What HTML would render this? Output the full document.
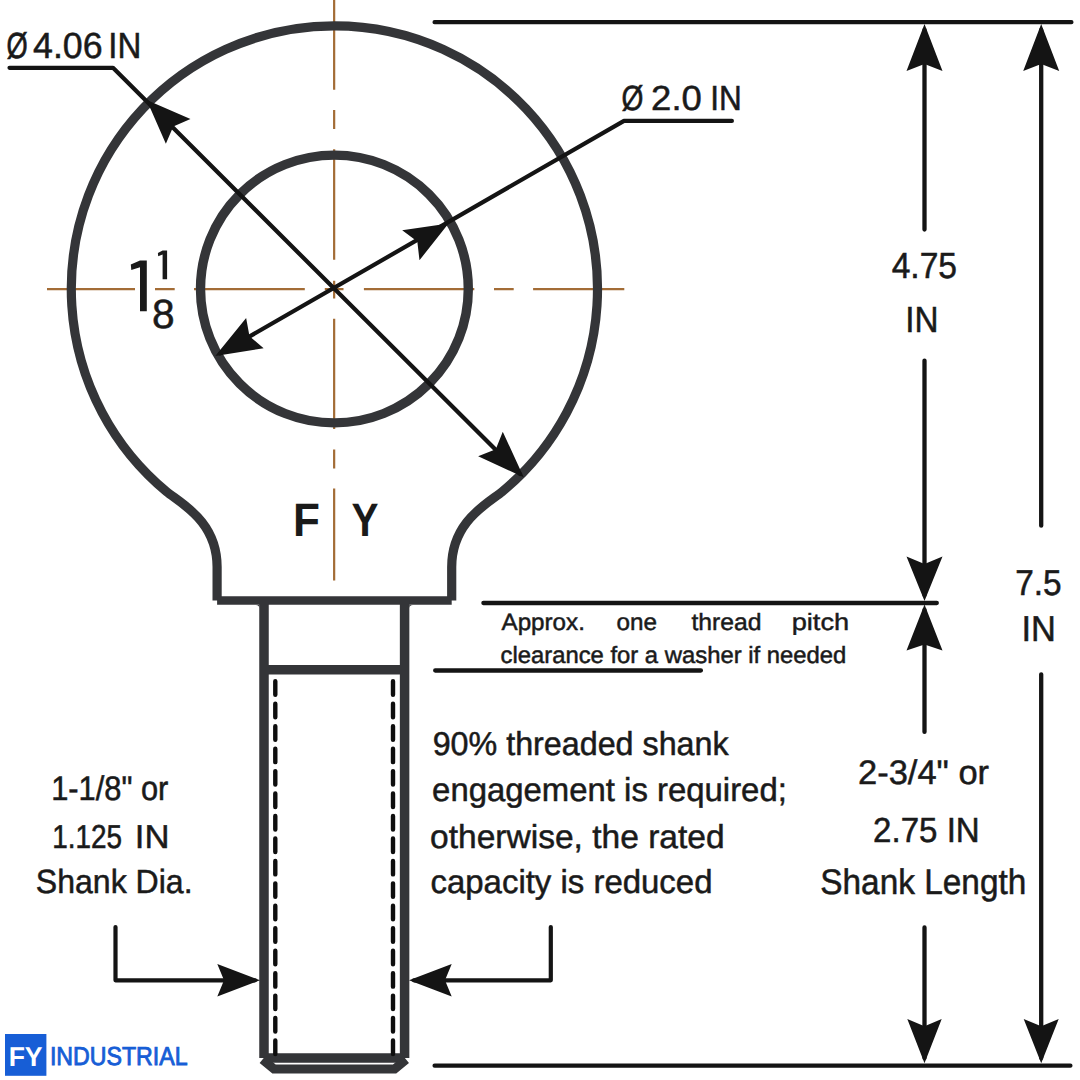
<!DOCTYPE html>
<html><head><meta charset="utf-8"><style>
html,body{margin:0;padding:0;background:#fff;}
svg{display:block;}
text{font-family:"Liberation Sans",sans-serif;text-rendering:geometricPrecision;}
</style></head><body>
<svg width="1080" height="1080" viewBox="0 0 1080 1080">
<rect width="1080" height="1080" fill="#fff"/>
<path d="M47 289.1H135M155 289.1H174.7M194 289.1H304.8M324.8 289.1H343.5M363.9 289.1H474.3M494 289.1H513.7M533.1 289.1H624.3M334.15 -5V89.8M334.15 110.1V128.9M334.15 149.3V259.7M334.15 280.7V298.5M334.15 318.8V429.1M334.15 449.5V468.6M334.15 488.4V580.6" stroke="#a36c36" stroke-width="2.2" fill="none"/>
<path d="M217.1 600.4V567.05C217.1 521.05 180.53 503.17 166.67 491.70A263.1 263.1 0 1 1 502.13 491.70C488.27 503.17 451.7 521.05 451.7 567.05V600.4" stroke="#343538" stroke-width="9.2" fill="none"/>
<path d="M217.1 600.4H451.7" stroke="#343538" stroke-width="8.5" fill="none"/>
<circle cx="334.4" cy="289.0" r="133.9" stroke="#343538" stroke-width="9.4" fill="none"/>
<path d="M264.0 600V1058M404.6 600V1058M264.0 669.8H404.6M264.0 1058H404.6" stroke="#343538" stroke-width="9.5" fill="none"/>
<path d="M262.5 1059.5L274.0 1069L394.6 1069L406.1 1059.5" stroke="#343538" stroke-width="9" fill="none" stroke-linejoin="miter"/>
<path d="M275.3 681.3V1054M393 681.3V1054" stroke="#0e0e0e" stroke-width="4.4" stroke-linecap="round" stroke-dasharray="13.5 8.95" fill="none"/>
<g stroke="#141414" stroke-width="4.3" stroke-linecap="round" fill="none">
<path d="M434.6 22.2H1071.4M434.6 1065.7H1070.4M483.4 603H936.8M435.2 670.5H700.9"/>
<path d="M924.5 30V229.5M924.5 360.6V595M924.5 610V731.9M924.5 927.4V1058"/>
<path d="M1041.2 30V525.7M1041.2 674.3V1058"/>
</g>
<g stroke="#141414" stroke-width="4.2" stroke-linecap="round" stroke-linejoin="round" fill="none">
<path d="M9.5 67.8H113L520 474"/>
<path d="M731.9 120.9H624L220 353.5"/>
<path d="M115.5 927.1V980.3H255M550.8 927.1V980.3H414"/>
</g>
<path d="M924.50 24.00L942.50 71.00L924.50 64.00L906.50 71.00Z" fill="#141414"/>
<path d="M1041.20 24.00L1059.20 71.00L1041.20 64.00L1023.20 71.00Z" fill="#141414"/>
<path d="M924.50 601.00L906.50 556.50L924.50 564.00L942.50 556.50Z" fill="#141414"/>
<path d="M924.50 604.60L942.50 650.40L924.50 644.40L906.50 650.40Z" fill="#141414"/>
<path d="M924.50 1063.30L907.30 1018.90L924.50 1026.30L941.70 1018.90Z" fill="#141414"/>
<path d="M1041.20 1063.30L1023.70 1018.90L1041.20 1026.30L1058.70 1018.90Z" fill="#141414"/>
<path d="M146.70 99.90L190.47 119.06L173.29 126.49L165.86 143.67Z" fill="#141414"/>
<path d="M523.70 477.20L478.16 456.27L495.77 449.27L502.77 431.66Z" fill="#141414"/>
<path d="M448.50 223.50L419.48 260.23L417.32 241.50L402.18 230.27Z" fill="#141414"/>
<path d="M215.30 356.00L246.13 317.99L249.51 336.25L263.63 348.30Z" fill="#141414"/>
<path d="M260.00 980.30L217.30 996.55L224.00 980.30L217.30 964.05Z" fill="#141414"/>
<path d="M409.00 980.30L451.70 964.05L445.00 980.30L451.70 996.55Z" fill="#141414"/>
<path d="M140 260.4H146.8V311.2H140V267.2L131.3 269.9L130.8 264.6Z" fill="#1a1a1a"/>
<path d="M162.6 250.4H167.1V279.2H162.6V254.6L158.2 256.3L157.9 252.9Z" fill="#1a1a1a"/>
<path d="M255.8 604.9L259.4 604.9L259.4 608.5A3.6 3.6 0 0 0 255.8 604.9ZM412.9 604.9L409.3 604.9L409.3 608.5A3.6 3.6 0 0 1 412.9 604.9Z" fill="#343538"/>
<rect x="5" y="1034" width="41.4" height="41.8" fill="#175ed6"/>
<text id="t1" transform="translate(6.51 57.6) scale(0.7494 1)" font-size="36.34" font-weight="400" fill="#1a1a1a" stroke="#1a1a1a" stroke-width="0.67">Ø</text>
<text id="t1b" transform="translate(33.02 57.6) scale(0.9840 1)" font-size="36.34" font-weight="400" fill="#1a1a1a" stroke="#1a1a1a" stroke-width="0.51">4.06</text>
<text id="t1c" transform="translate(108.27 57.6) scale(0.9102 1)" font-size="36.34" font-weight="400" fill="#1a1a1a" stroke="#1a1a1a" stroke-width="0.55">IN</text>
<text id="t2" transform="translate(621.49 110.4) scale(0.8081 1)" font-size="34.88" font-weight="400" fill="#1a1a1a" stroke="#1a1a1a" stroke-width="0.62">Ø</text>
<text id="t2b" transform="translate(651.09 110.4) scale(1.0470 1)" font-size="34.88" font-weight="400" fill="#1a1a1a" stroke="#1a1a1a" stroke-width="0.48">2.0</text>
<text id="t2c" transform="translate(710.29 110.4) scale(0.9044 1)" font-size="34.88" font-weight="400" fill="#1a1a1a" stroke="#1a1a1a" stroke-width="0.55">IN</text>
<text id="t5" transform="translate(152.00 327.5) scale(1.0000 1)" font-size="40.70" font-weight="400" fill="#1a1a1a" stroke="#1a1a1a" stroke-width="0.50">8</text>
<text id="t6" transform="translate(292.94 535.6) scale(0.9388 1)" font-size="46.95" font-weight="700" fill="#1a1a1a">F</text>
<text id="t7" transform="translate(351.55 535.6) scale(0.8635 1)" font-size="46.95" font-weight="700" fill="#1a1a1a">Y</text>
<text id="t8" transform="translate(891.64 278.4) scale(0.9250 1)" font-size="36.34" font-weight="400" fill="#1a1a1a" stroke="#1a1a1a" stroke-width="0.54">4.75</text>
<text id="t9" transform="translate(905.34 331.9) scale(0.9160 1)" font-size="36.34" font-weight="400" fill="#1a1a1a" stroke="#1a1a1a" stroke-width="0.55">IN</text>
<text id="t10" transform="translate(1015.23 594.8) scale(0.9268 1)" font-size="36.05" font-weight="400" fill="#1a1a1a" stroke="#1a1a1a" stroke-width="0.54">7.5</text>
<text id="t11" transform="translate(1021.51 641.1) scale(0.9547 1)" font-size="36.05" font-weight="400" fill="#1a1a1a" stroke="#1a1a1a" stroke-width="0.52">IN</text>
<text id="t12" transform="translate(501.49 630) scale(1.0253 1)" font-size="23.62" font-weight="400" fill="#1a1a1a" stroke="#1a1a1a" stroke-width="0.49">Approx.</text>
<text id="t13" transform="translate(616.45 630) scale(1.0274 1)" font-size="23.62" font-weight="400" fill="#1a1a1a" stroke="#1a1a1a" stroke-width="0.49">one</text>
<text id="t14" transform="translate(691.46 630) scale(1.0465 1)" font-size="23.62" font-weight="400" fill="#1a1a1a" stroke="#1a1a1a" stroke-width="0.48">thread</text>
<text id="t15" transform="translate(791.69 630) scale(1.1528 1)" font-size="23.62" font-weight="400" fill="#1a1a1a" stroke="#1a1a1a" stroke-width="0.43">pitch</text>
<text id="t16" transform="translate(500.49 662.5) scale(1.0094 1)" font-size="23.62" font-weight="400" fill="#1a1a1a" stroke="#1a1a1a" stroke-width="0.50">clearance for a washer if needed</text>
<text id="t17" transform="translate(432.64 754.7) scale(0.9781 1)" font-size="32.99" font-weight="400" fill="#1a1a1a" stroke="#1a1a1a" stroke-width="0.51">90% threaded shank</text>
<text id="t18" transform="translate(432.10 800.8) scale(0.9972 1)" font-size="32.99" font-weight="400" fill="#1a1a1a" stroke="#1a1a1a" stroke-width="0.50">engagement is required;</text>
<text id="t19" transform="translate(430.07 848) scale(1.0168 1)" font-size="32.99" font-weight="400" fill="#1a1a1a" stroke="#1a1a1a" stroke-width="0.49">otherwise, the rated</text>
<text id="t20" transform="translate(430.50 893.3) scale(0.9986 1)" font-size="32.99" font-weight="400" fill="#1a1a1a" stroke="#1a1a1a" stroke-width="0.50">capacity is reduced</text>
<text id="t21" transform="translate(51.16 799.8) scale(0.9024 1)" font-size="34.16" font-weight="400" fill="#1a1a1a" stroke="#1a1a1a" stroke-width="0.55">1-1/8&quot; or</text>
<text id="t22" transform="translate(52.32 848) scale(0.8416 1)" font-size="33.14" font-weight="400" fill="#1a1a1a" stroke="#1a1a1a" stroke-width="0.59">1.125</text>
<text id="t22b" transform="translate(134.80 848) scale(1.0469 1)" font-size="33.14" font-weight="400" fill="#1a1a1a" stroke="#1a1a1a" stroke-width="0.48">IN</text>
<text id="t23" transform="translate(35.85 893.3) scale(0.9539 1)" font-size="33.58" font-weight="400" fill="#1a1a1a" stroke="#1a1a1a" stroke-width="0.52">Shank Dia.</text>
<text id="t24" transform="translate(857.97 784.1) scale(1.0142 1)" font-size="34.01" font-weight="400" fill="#1a1a1a" stroke="#1a1a1a" stroke-width="0.49">2-3/4&quot; or</text>
<text id="t25" transform="translate(873.10 842.2) scale(0.9482 1)" font-size="34.88" font-weight="400" fill="#1a1a1a" stroke="#1a1a1a" stroke-width="0.53">2.75 IN</text>
<text id="t26" transform="translate(820.24 893.8) scale(0.9377 1)" font-size="35.61" font-weight="400" fill="#1a1a1a" stroke="#1a1a1a" stroke-width="0.53">Shank Length</text>
<text id="t27" transform="translate(8.65 1065.7) scale(0.9712 1)" font-size="27.33" font-weight="700" fill="#ffffff">FY</text>
<text id="t28" transform="translate(49.93 1064.8) scale(0.8895 1)" font-size="26.02" font-weight="400" fill="#175ed6" stroke="#175ed6" stroke-width="0.90">INDUSTRIAL</text>
</svg>
</body></html>
